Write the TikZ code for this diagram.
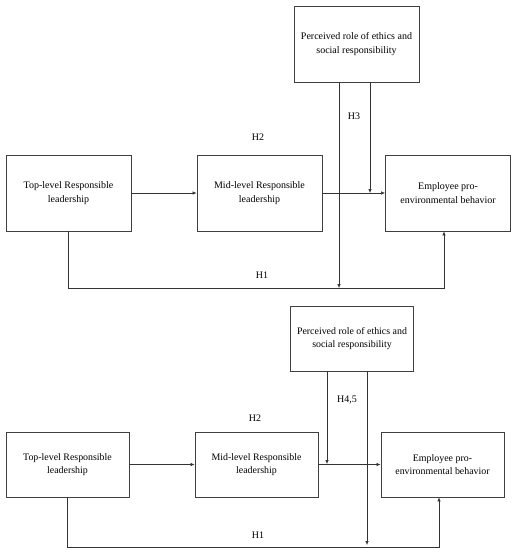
\documentclass[tikz,border=0pt]{standalone}
\usepackage{fontspec}
\setmainfont{Liberation Serif}
\usetikzlibrary{arrows.meta,positioning}

\begin{document}
\begin{tikzpicture}[x=1pt,y=-1pt,
		box/.style={draw=black!75,line width=0.8pt,minimum width=125pt,minimum height=76pt,align=center,font=\fontsize{10}{14}\selectfont},
		lowbox/.style={box,minimum width=123pt,minimum height=65pt,font=\fontsize{9.9}{13.3}\selectfont},
		arr/.style={draw=black!80,line width=0.6pt,-{Latex[length=4pt,width=3.5pt]}},
		hlabel/.style={font=\fontsize{10}{12}\selectfont}]
	\useasboundingbox (0,0) rectangle (515,550);

	%upper model
	\node[box](eth1) at (356.5,44) {Perceived role of ethics and\\social responsibility};
	\node[box](top1) at (68.5,193) {Top-level Responsible\\leadership};
	\node[box](mid1) at (259.5,193) {Mid-level Responsible\\leadership};
	\node[box](emp1) at (448,193) {Employee pro-\\environmental behavior};

	%paths
	\draw[arr] (top1.east) -- (mid1.west);
	\draw[arr] (mid1.east) -- (emp1.west);
	\coordinate (m1) at (370,193);
	\draw[arr] (eth1.south -| m1) -- (m1);
	\coordinate (d1) at (339,288);
	\draw[arr] (eth1.south -| d1) -- (d1);
	\draw[arr] (top1.south) -- ++(0,57) -| ([xshift=-4pt]emp1.south);

	%hypotheses
	\node[hlabel](h2a) at (258,137) {H2};
	\node[hlabel](h3) at (354,116) {H3};
	\node[hlabel](h1a) at (262,275) {H1};

	%lower model
	\node[lowbox](eth2) at (352,338.5) {Perceived role of ethics and\\social responsibility};
	\node[lowbox](top2) at (67.5,464.5) {Top-level Responsible\\leadership};
	\node[lowbox](mid2) at (256.5,464.5) {Mid-level Responsible\\leadership};
	\node[lowbox](emp2) at (442.5,464.5) {Employee pro-\\environmental behavior};

	%paths
	\draw[arr] (top2.east) -- (mid2.west);
	\draw[arr] (mid2.east) -- (emp2.west);
	\coordinate (m2) at (327,464);
	\draw[arr] (eth2.south -| m2) -- (m2);
	\coordinate (d2) at (367,545);
	\draw[arr] (eth2.south -| d2) -- (d2);
	\draw[arr] (top2.south) -- ++(0,50) -| ([xshift=-3.5pt]emp2.south);

	%hypotheses
	\node[hlabel](h2b) at (255,418) {H2};
	\node[hlabel](h45) at (347,400) {H4,5};
	\node[hlabel](h1b) at (258,535) {H1};
\end{tikzpicture}
\end{document}
